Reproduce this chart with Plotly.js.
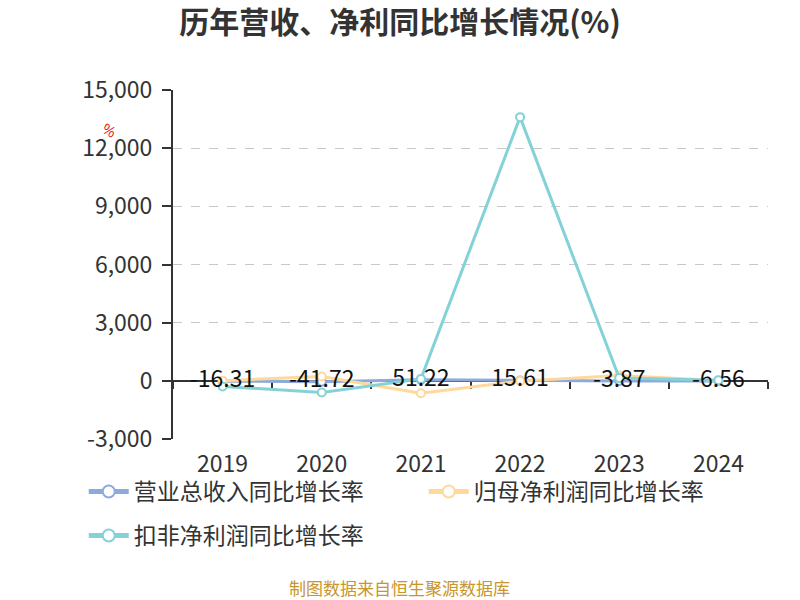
<!DOCTYPE html>
<html>
<head>
<meta charset="utf-8">
<script src="https://cdn.plot.ly/plotly-3.0.1.min.js"></script>
<style>
  html, body { margin: 0; padding: 0; background: #fff; }
  #chart { width: 800px; height: 600px; }
</style>
</head>
<body>
<div id="chart"></div>
<script>
const years = ['2019', '2020', '2021', '2022', '2023', '2024'];
const revenueGrowth = [-16.31, -41.72, 51.22, 15.61, -3.87, -6.56];
const netProfitGrowth = [10, 220, -640, -15, 270, 15];
const deductedProfitGrowth = [-290, -600, 100, 13600, 140, 35];
const seriesNames = ['营业总收入同比增长率', '归母净利润同比增长率', '扣非净利润同比增长率'];
const yTicks = [-3000, 0, 3000, 6000, 9000, 12000, 15000];

const target = document.getElementById('chart');
const font = '"Noto Sans CJK SC", "Noto Sans", sans-serif';

function lineTrace(name, values, color, legendName) {
  return {
    x: years,
    y: values,
    type: 'scatter',
    mode: 'lines+markers',
    name: name,
    legend: legendName,
    line: { color: color, width: 3 },
    marker: {
      symbol: 'circle',
      size: 8,
      color: '#fff',
      line: { color: color, width: 2 }
    },
    cliponaxis: false
  };
}

const traces = [
  lineTrace(seriesNames[0], revenueGrowth, '#8eaadb', 'legend'),
  lineTrace(seriesNames[1], netProfitGrowth, '#ffd89c', 'legend'),
  lineTrace(seriesNames[2], deductedProfitGrowth, '#84d2d8', 'legend2'),
  // value labels of the revenue series, kept on top of the lines
  {
    x: years,
    y: revenueGrowth,
    type: 'scatter',
    mode: 'text',
    text: revenueGrowth.map(v => v.toFixed(2)),
    textposition: 'middle center',
    textfont: { size: 23, color: '#111', family: font },
    showlegend: false,
    hoverinfo: 'skip',
    cliponaxis: false
  }
];

const legendStyle = {
  orientation: 'h',
  x: -0.15,
  xanchor: 'left',
  yanchor: 'top',
  font: { size: 23, color: '#333', family: font },
  itemsizing: 'constant',
  itemwidth: 40,
  entrywidth: 285,
  entrywidthmode: 'pixels',
  bgcolor: 'rgba(0,0,0,0)'
};

const layout = {
  width: 800,
  height: 600,
  paper_bgcolor: '#fff',
  plot_bgcolor: '#fff',
  font: { family: font, color: '#333' },
  title: {
    text: '<b>历年营收、净利同比增长情况(%)</b>',
    font: { size: 30, color: '#333', family: font },
    x: 0.5,
    xanchor: 'center',
    y: 0.962,
    yanchor: 'middle'
  },
  margin: { l: 173, r: 32, t: 90, b: 161 },
  xaxis: {
    type: 'category',
    range: [-0.5, 5.5],
    anchor: 'free',
    position: 1 / 6,
    showline: true,
    linecolor: '#333',
    linewidth: 2,
    ticks: 'outside',
    tickson: 'boundaries',
    ticklen: 7,
    tickcolor: '#333',
    tickwidth: 2,
    ticklabelstandoff: 63,
    showgrid: false,
    zeroline: false,
    layer: 'below traces',
    tickfont: { size: 23, color: '#333', family: font }
  },
  yaxis: {
    range: [-3000, 15000],
    tickvals: yTicks,
    ticktext: yTicks.map(v => v.toLocaleString('en-US')),
    showline: true,
    linecolor: '#333',
    linewidth: 2,
    ticks: 'outside',
    ticklen: 9,
    tickcolor: '#333',
    tickwidth: 2,
    ticklabelstandoff: 5,
    showgrid: true,
    gridcolor: '#c8c8c8',
    griddash: 'dash',
    gridwidth: 1,
    zeroline: false,
    tickfont: { size: 23, color: '#333', family: font }
  },
  showlegend: true,
  legend: Object.assign({}, legendStyle, { y: -0.089 }),
  legend2: Object.assign({}, legendStyle, { y: -0.215 }),
  annotations: [
    {
      text: '%',
      xref: 'paper',
      yref: 'paper',
      x: -0.106,
      y: 0.885,
      xanchor: 'center',
      yanchor: 'middle',
      showarrow: false,
      textangle: 30,
      font: { size: 14, color: '#e00', family: font }
    },
    {
      text: '制图数据来自恒生聚源数据库',
      xref: 'paper',
      yref: 'paper',
      x: 0.3815,
      y: -0.425,
      yanchor: 'middle',
      showarrow: false,
      font: { size: 17, color: '#c8962a', family: font }
    }
  ]
};

Plotly.newPlot(target, traces, layout, { displayModeBar: false, staticPlot: true });
</script>
</body>
</html>
